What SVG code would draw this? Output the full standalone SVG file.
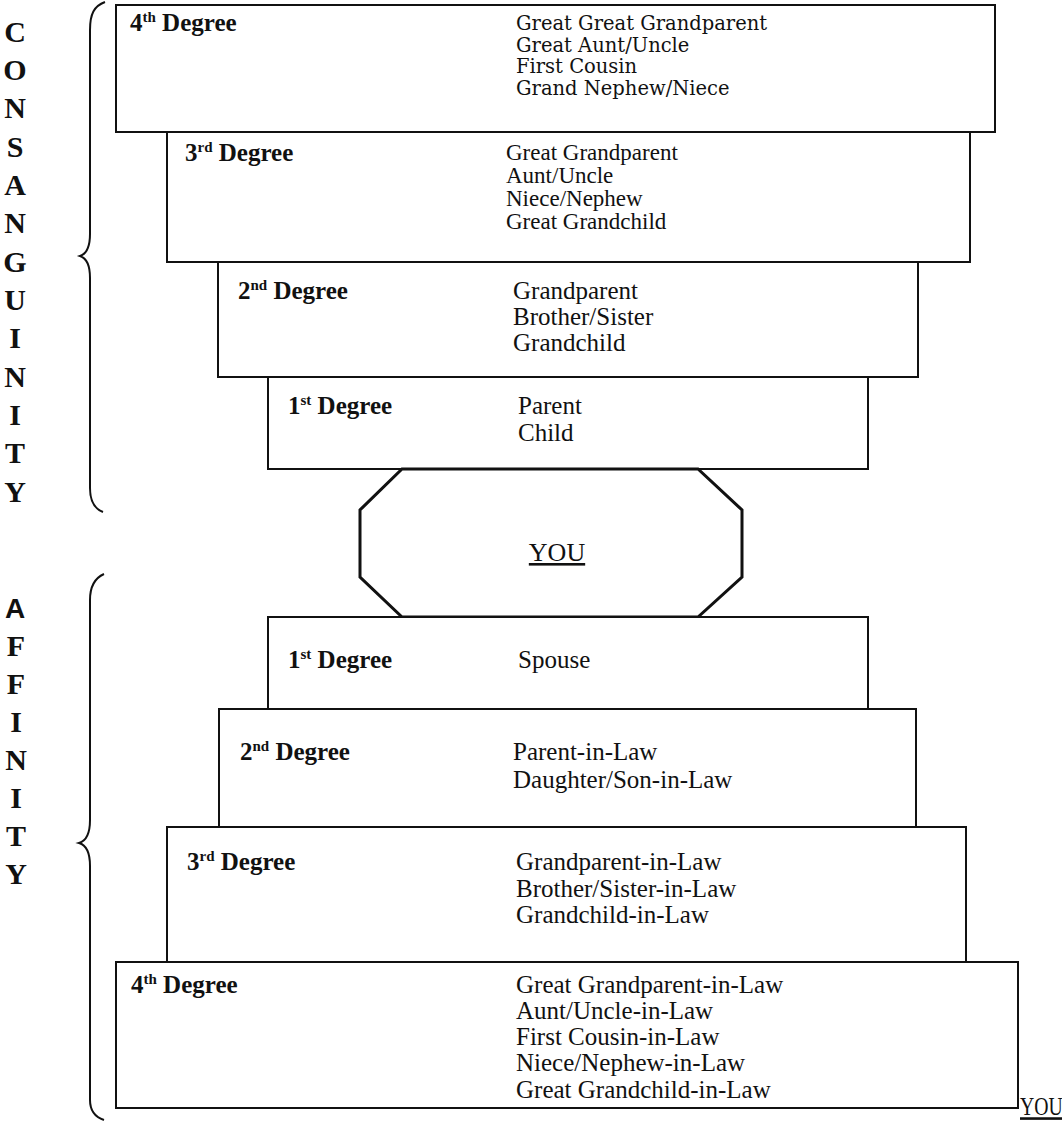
<svg xmlns="http://www.w3.org/2000/svg" width="1062" height="1125" viewBox="0 0 1062 1125">
<style>
.box{fill:#fff;stroke:#111;stroke-width:2}
.oct{fill:#fff;stroke:#111;stroke-width:3}
.lbl{font-family:"Liberation Serif",serif;font-weight:bold;font-size:25px;fill:#111}
.it{font-family:"Liberation Serif",serif;font-size:25px;fill:#111}
.s23{font-size:23px}
.wide{font-family:"DejaVu Serif",serif;font-size:19.5px;fill:#111}
.sup{font-size:15px}
.vert{font-family:"Liberation Serif",serif;font-weight:bold;font-size:30px;fill:#111;text-anchor:middle}
.vsans{font-family:"Liberation Sans",sans-serif;font-weight:bold;font-size:28px;fill:#111;text-anchor:middle}
.brace{fill:none;stroke:#111;stroke-width:2}
.you{font-family:"Liberation Serif",serif;font-size:26px;fill:#111;text-decoration:underline}
</style>
<rect width="1062" height="1125" fill="#fff"/>
<g id="braces">
<path class="brace" d="M105,2 C94,6 90,14 90,30 L90,234 C90,248 86,254 80,256 C86,258 90,264 90,278 L90,488 C90,502 95,509 103,512"/>
<path class="brace" d="M104,574 C95,578 90,586 90,600 L90,820 C90,835 86,841 79,843 C86,845 90,851 90,866 L90,1100 C90,1111 95,1117 104,1120"/>
</g>
<g id="label-consanguinity">
<text class="vert" x="15" y="42">C</text>
<text class="vert" x="15" y="80">O</text>
<text class="vert" x="15" y="118">N</text>
<text class="vert" x="15" y="157">S</text>
<text class="vert" x="15" y="195">A</text>
<text class="vert" x="15" y="233">N</text>
<text class="vert" x="15" y="272">G</text>
<text class="vert" x="15" y="310">U</text>
<text class="vert" x="15" y="348">I</text>
<text class="vert" x="15" y="387">N</text>
<text class="vert" x="15" y="425">I</text>
<text class="vert" x="15" y="463">T</text>
<text class="vert" x="15" y="502">Y</text>
</g>
<g id="label-affinity">
<text class="vsans" x="15" y="618">A</text>
<text class="vert" x="16" y="656">F</text>
<text class="vert" x="16" y="694">F</text>
<text class="vert" x="16" y="732">I</text>
<text class="vert" x="16" y="770">N</text>
<text class="vert" x="16" y="808">I</text>
<text class="vert" x="16" y="846">T</text>
<text class="vert" x="16" y="884">Y</text>
</g>
<g id="c4">
<rect class="box" x="116" y="5" width="879" height="127"/>
<text class="lbl" x="130" y="31">4<tspan class="sup" dy="-9">th</tspan><tspan dy="9"> Degree</tspan></text>
<text class="wide" x="516" y="30">Great Great Grandparent</text>
<text class="wide" x="516" y="52">Great Aunt/Uncle</text>
<text class="wide" x="516" y="73">First Cousin</text>
<text class="wide" x="516" y="95">Grand Nephew/Niece</text>
</g>
<g id="c3">
<rect class="box" x="167" y="132" width="803" height="130"/>
<text class="lbl" x="185" y="161">3<tspan class="sup" dy="-9">rd</tspan><tspan dy="9"> Degree</tspan></text>
<text class="it s23" x="506" y="160">Great Grandparent</text>
<text class="it s23" x="506" y="183">Aunt/Uncle</text>
<text class="it s23" x="506" y="206">Niece/Nephew</text>
<text class="it s23" x="506" y="229">Great Grandchild</text>
</g>
<g id="c2">
<rect class="box" x="218" y="262" width="700" height="115"/>
<text class="lbl" x="238" y="299">2<tspan class="sup" dy="-9">nd</tspan><tspan dy="9"> Degree</tspan></text>
<text class="it" x="513" y="299">Grandparent</text>
<text class="it" x="513" y="325">Brother/Sister</text>
<text class="it" x="513" y="351">Grandchild</text>
</g>
<g id="c1">
<rect class="box" x="268" y="377" width="600" height="92"/>
<text class="lbl" x="288" y="414">1<tspan class="sup" dy="-9">st</tspan><tspan dy="9"> Degree</tspan></text>
<text class="it" x="518" y="414">Parent</text>
<text class="it" x="518" y="441">Child</text>
</g>
<g id="you">
<polygon class="oct" points="402,469 698,469 742,510 742,577 698,617 402,617 360,577 360,510"/>
<text class="you" x="557" y="561" text-anchor="middle">YOU</text>
</g>
<g id="a1">
<rect class="box" x="268" y="617" width="600" height="92"/>
<text class="lbl" x="288" y="668">1<tspan class="sup" dy="-9">st</tspan><tspan dy="9"> Degree</tspan></text>
<text class="it" x="518" y="668">Spouse</text>
</g>
<g id="a2">
<rect class="box" x="219" y="709" width="697" height="118"/>
<text class="lbl" x="240" y="760">2<tspan class="sup" dy="-9">nd</tspan><tspan dy="9"> Degree</tspan></text>
<text class="it" x="513" y="760">Parent-in-Law</text>
<text class="it" x="513" y="788">Daughter/Son-in-Law</text>
</g>
<g id="a3">
<rect class="box" x="167" y="827" width="799" height="135"/>
<text class="lbl" x="187" y="870">3<tspan class="sup" dy="-9">rd</tspan><tspan dy="9"> Degree</tspan></text>
<text class="it" x="516" y="870">Grandparent-in-Law</text>
<text class="it" x="516" y="897">Brother/Sister-in-Law</text>
<text class="it" x="516" y="923">Grandchild-in-Law</text>
</g>
<g id="a4">
<rect class="box" x="116" y="962" width="902" height="146"/>
<text class="lbl" x="131" y="993">4<tspan class="sup" dy="-9">th</tspan><tspan dy="9"> Degree</tspan></text>
<text class="it" x="516" y="993">Great Grandparent-in-Law</text>
<text class="it" x="516" y="1019">Aunt/Uncle-in-Law</text>
<text class="it" x="516" y="1045">First Cousin-in-Law</text>
<text class="it" x="516" y="1071">Niece/Nephew-in-Law</text>
<text class="it" x="516" y="1098">Great Grandchild-in-Law</text>
</g>
<text class="you" transform="translate(1020,1115) scale(0.76,1)" x="0" y="0" font-size="24">YOU</text>
</svg>
